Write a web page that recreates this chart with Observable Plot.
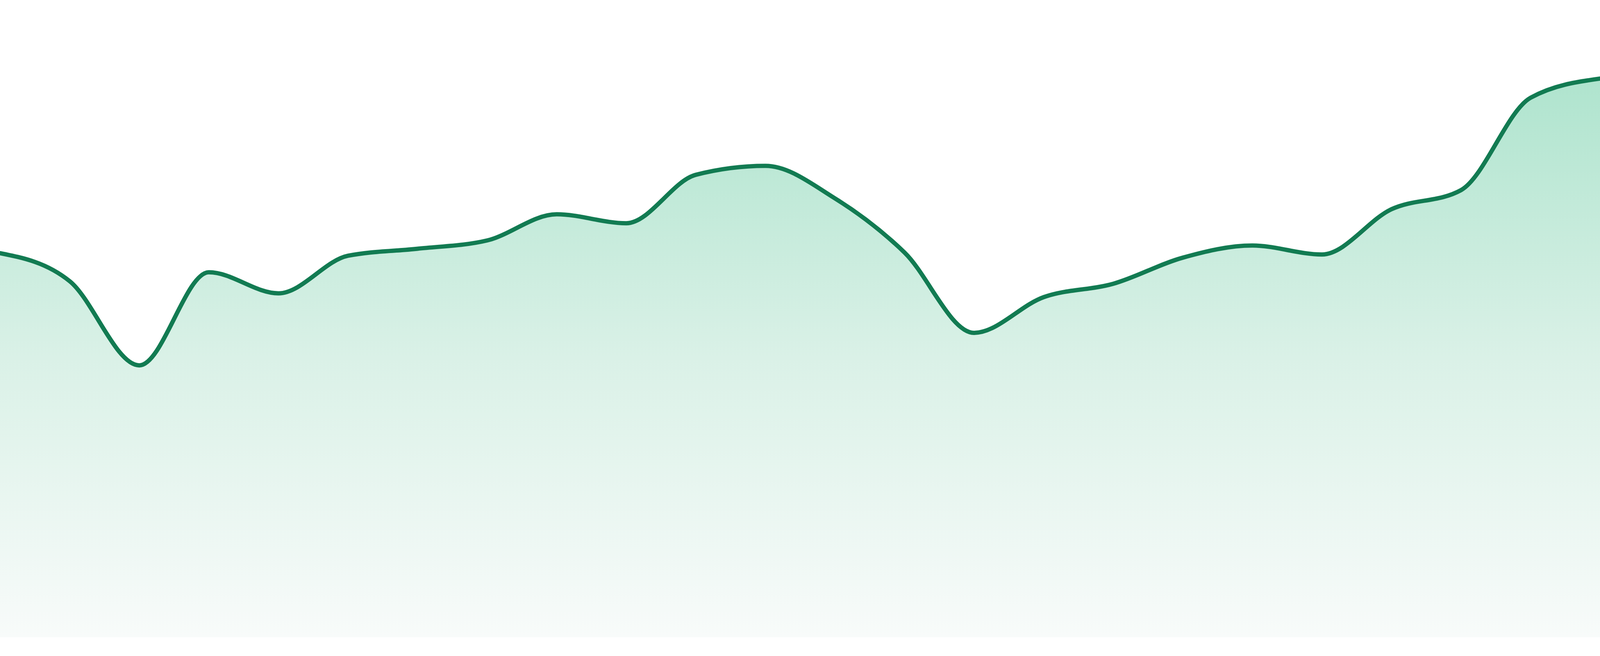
<!DOCTYPE html>
<html>
<head>
<meta charset="utf-8">
<script src="https://cdn.jsdelivr.net/npm/d3@7"></script>
<script src="https://cdn.jsdelivr.net/npm/@observablehq/plot@0.6"></script>
<style>
  html, body { margin: 0; padding: 0; background: #ffffff; overflow: hidden; }
  #chart svg { display: block; }
</style>
</head>
<body>
<div id="chart"></div>
<script>
// Period index (24 evenly spaced samples)
const periods = [1, 2, 3, 4, 5, 6, 7, 8, 9, 10, 11, 12, 13, 14, 15, 16, 17, 18, 19, 20, 21, 22, 23, 24];
// Series values (arbitrary units, 0–100)
const values = [60.3, 55.9, 42.7, 57.3, 54.0, 59.9, 61.0, 62.3, 66.4, 65.0, 72.6, 74.0,
                68.9, 60.4, 47.8, 53.4, 55.5, 59.6, 61.5, 60.1, 67.2, 70.2, 84.7, 87.7];

const data = periods.map((p, i) => ({period: p, value: values[i]}));

const W = window.innerWidth || 4800;
const H = window.innerHeight || 1680;

const svg = Plot.plot({
  width: W,
  height: H,
  marginTop: 0,
  marginRight: 0,
  marginBottom: 48,
  marginLeft: 0,
  style: {maxWidth: "none"},
  x: {domain: [1, 24], axis: null},
  y: {domain: [0, 100], axis: null},
  marks: [
    Plot.areaY(data, {x: "period", y: "value", curve: "monotone-x", fill: "url(#areaGrad)"}),
    Plot.lineY(data, {x: "period", y: "value", curve: "monotone-x", stroke: "#127b52", strokeWidth: 11})
  ]
});

const defs = d3.select(svg).insert("defs", ":first-child");
const grad = defs.append("linearGradient")
  .attr("id", "areaGrad")
  .attr("x1", 0).attr("y1", 0).attr("x2", 0).attr("y2", 1);
grad.append("stop").attr("offset", "0%").attr("stop-color", "#afe4ce");
grad.append("stop").attr("offset", "50%").attr("stop-color", "#daf1e7");
grad.append("stop").attr("offset", "100%").attr("stop-color", "#f8fbfa");

document.getElementById("chart").appendChild(svg);
</script>
</body>
</html>
